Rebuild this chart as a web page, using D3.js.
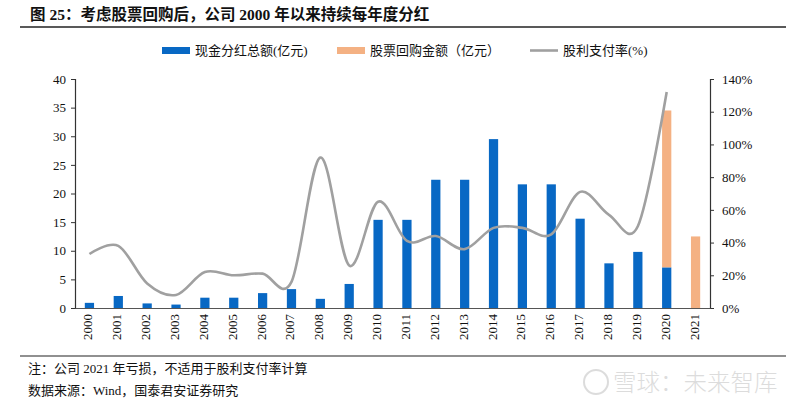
<!DOCTYPE html>
<html><head><meta charset="utf-8">
<script src="https://cdn.jsdelivr.net/npm/d3@7"></script>
<style>
body{margin:0;background:#fff;}
svg{display:block;}
text{font-family:"Liberation Serif","Noto Sans CJK SC",serif;}
</style></head>
<body>
<svg id="c" width="800" height="409"></svg>
<script>
const years = ["2000","2001","2002","2003","2004","2005","2006","2007","2008","2009","2010","2011","2012","2013","2014","2015","2016","2017","2018","2019","2020","2021"];
const cashDividend = [0.9,2.1,0.8,0.6,1.8,1.8,2.6,3.3,1.6,4.2,15.4,15.4,22.4,22.4,29.5,21.6,21.6,15.6,7.8,9.8,7.1,0];
const buyback = [0,0,0,0,0,0,0,0,0,0,0,0,0,0,0,0,0,0,0,0,27.4,12.5];
const payoutRatio = [33,38,15,8,22,20,21,16,92,26,65,41,44,36,49,49,45,71,57,50,132,null];
const leftTicks = [0,5,10,15,20,25,30,35,40];
const rightTicks = [0,0.2,0.4,0.6,0.8,1.0,1.2,1.4];
const seriesNames = ["现金分红总额(亿元)","股票回购金额（亿元）","股利支付率(%)"];
const titleText = "图 25：考虑股票回购后，公司 2000 年以来持续每年度分红";
const note1 = "注：公司 2021 年亏损，不适用于股利支付率计算";
const note2 = "数据来源：Wind，国泰君安证券研究";

const colors = {cash:"#0868C4", buy:"#F4B183", line:"#A0A0A0"};
const svg = d3.select("#c");
const m = {l:75, r:710, t:79, b:308};

const x = d3.scaleBand().domain(years).range([m.l, m.r]).paddingInner(0.68).paddingOuter(0.34);
const yL = d3.scaleLinear().domain([0,40]).range([m.b, m.t]);
const yR = d3.scaleLinear().domain([0,1.4]).range([m.b, m.t]);

// title
svg.append("text").attr("x",30).attr("y",20).attr("font-size",15.5).attr("font-weight","bold").attr("fill","#111").text(titleText);
svg.append("line").attr("x1",20).attr("x2",786).attr("y1",27).attr("y2",27).attr("stroke","#222").attr("stroke-width",1.5);

// bars (stacked)
const rows = years.map((y,i)=>({year:y, cash:cashDividend[i], buy:buyback[i]}));
const stack = d3.stack().keys(["cash","buy"])(rows);
const fills = [colors.cash, colors.buy];
stack.forEach((layer,li)=>{
  svg.append("g").selectAll("rect").data(layer).join("rect")
    .attr("x", d=>x(d.data.year))
    .attr("width", x.bandwidth())
    .attr("y", d=>yL(d[1]))
    .attr("height", d=>yL(d[0])-yL(d[1]))
    .attr("fill", fills[li]);
});

// line
const lineData = years.map((y,i)=>({year:y, v:payoutRatio[i]})).filter(d=>d.v!=null);
const line = d3.line().x(d=>x(d.year)+x.bandwidth()/2).y(d=>yR(d.v/100)).curve(d3.curveCatmullRom.alpha(0));
svg.append("path").datum(lineData).attr("d",line).attr("fill","none").attr("stroke",colors.line).attr("stroke-width",2.6);

// axes
const axL = svg.append("g").attr("transform",`translate(${m.l},0)`)
  .call(d3.axisLeft(yL).tickValues(leftTicks).tickSize(4).tickPadding(5));
const axR = svg.append("g").attr("transform",`translate(${m.r},0)`)
  .call(d3.axisRight(yR).tickValues(rightTicks).tickFormat(d3.format(".0%")).tickSize(4).tickPadding(8));
const axB = svg.append("g").attr("transform",`translate(0,${m.b})`)
  .call(d3.axisBottom(x).tickSize(0).tickPadding(6));
[axL,axR,axB].forEach(a=>{
  a.selectAll("path").attr("stroke","#333").attr("stroke-width",1.2);
  a.selectAll("line").attr("stroke","#333");
  a.selectAll("text").attr("font-size",13).attr("fill","#111").attr("font-family","Liberation Serif");
});
axB.selectAll("path").attr("stroke","#555");
axB.selectAll("text").attr("transform","rotate(-90)").attr("text-anchor","end").attr("x",-6).attr("y",0)
  .style("dominant-baseline","middle").attr("dy",0);

// legend
const lg = svg.append("g");
const items = [
  {x:162, type:"rect", c:colors.cash, t:seriesNames[0]},
  {x:337, type:"rect", c:colors.buy, t:seriesNames[1]},
  {x:530, type:"line", c:colors.line, t:seriesNames[2]}
];
items.forEach(it=>{
  if(it.type==="rect") lg.append("rect").attr("x",it.x).attr("y",47).attr("width",28).attr("height",7).attr("fill",it.c);
  else lg.append("line").attr("x1",it.x).attr("x2",it.x+28).attr("y1",50.5).attr("y2",50.5).attr("stroke",it.c).attr("stroke-width",2.6);
  lg.append("text").attr("x",it.x+33).attr("y",55).attr("font-size",13).attr("fill","#111").text(it.t);
});

// bottom rule and notes
svg.append("line").attr("x1",20).attr("x2",786).attr("y1",356).attr("y2",356).attr("stroke","#222").attr("stroke-width",1.2);
svg.append("text").attr("x",28).attr("y",373).attr("font-size",13).attr("fill","#111").text(note1);
svg.append("text").attr("x",28).attr("y",395).attr("font-size",13).attr("fill","#111").text(note2);

// watermark
const wm = svg.append("g").attr("opacity",0.5);
wm.append("circle").attr("cx",596).attr("cy",382).attr("r",12).attr("fill","none").attr("stroke","#bbb").attr("stroke-width",2);
wm.append("text").attr("x",613).attr("y",391).attr("font-size",23.5).attr("font-weight",300).attr("fill","#bbb").attr("font-family","Noto Sans CJK SC").text("雪球：未来智库");
</script>
</body></html>
